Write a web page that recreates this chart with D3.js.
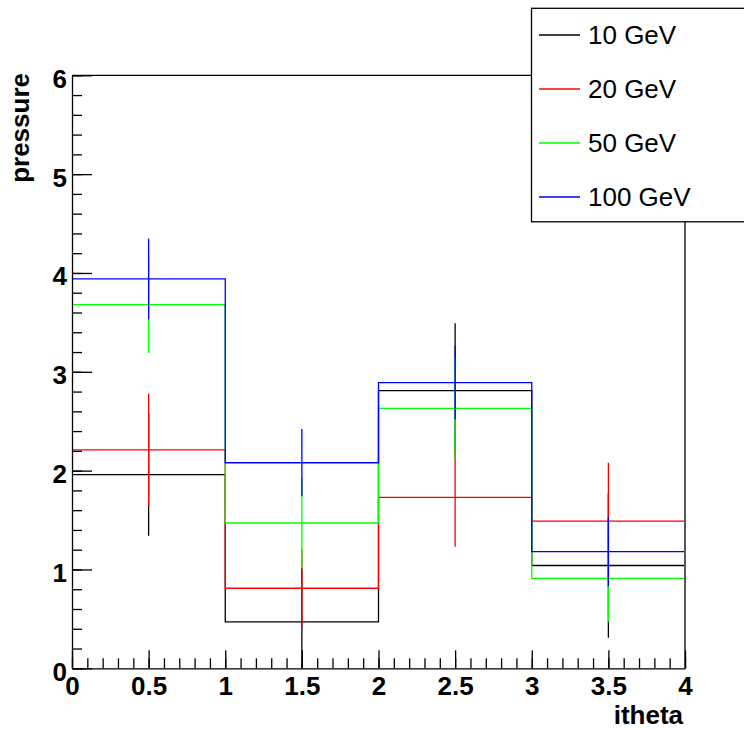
<!DOCTYPE html>
<html>
<head>
<meta charset="utf-8">
<script src="https://cdn.jsdelivr.net/npm/d3@7"></script>
<style>
  body { margin: 0; background: #fff; }
  svg { display: block; font-family: "Liberation Sans", Arial, Helvetica, sans-serif; }
</style>
</head>
<body>
<div id="chart"></div>
<script>
// bins and series
var binEdges = [0, 1, 2, 3, 4];
var seriesNames = ["10 GeV", "20 GeV", "50 GeV", "100 GeV"];
var seriesColors = ["#000000", "#ff0000", "#00ff00", "#0000ff"];
var values10 = [1.96, 0.47, 2.81, 1.04];
var errors10 = [0.62, 0.55, 0.68, 0.73];
var values20 = [2.21, 0.81, 1.73, 1.49];
var errors20 = [0.57, 0.40, 0.50, 0.59];
var values50 = [3.68, 1.47, 2.63, 0.91];
var errors50 = [0.49, 0.46, 0.51, 0.44];
var values100 = [3.94, 2.08, 2.89, 1.18];
var errors100 = [0.41, 0.34, 0.37, 0.35];
var xMajorTicks = [0, 0.5, 1, 1.5, 2, 2.5, 3, 3.5, 4];
var yMajorTicks = [0, 1, 2, 3, 4, 5, 6];

var series = [
  {name: seriesNames[0], color: seriesColors[0], values: values10, errors: errors10},
  {name: seriesNames[1], color: seriesColors[1], values: values20, errors: errors20},
  {name: seriesNames[2], color: seriesColors[2], values: values50, errors: errors50},
  {name: seriesNames[3], color: seriesColors[3], values: values100, errors: errors100}
];

var W = 744, H = 729;
var frame = {left: 72, right: 685, top: 75.3, bottom: 668.3};

var svg = d3.select("#chart").append("svg")
    .attr("width", W)
    .attr("height", H);

var x = d3.scaleLinear().domain([0, 4]).range([frame.left, frame.right]);
var y = d3.scaleLinear().domain([0, 6]).range([frame.bottom, frame.top]);

// clip a hair inside the frame so the outline edges at x=0 and x=4 hide under the axis lines
svg.append("clipPath").attr("id", "frameClip")
  .append("rect")
    .attr("x", frame.left + 1).attr("y", frame.top)
    .attr("width", frame.right - frame.left - 2)
    .attr("height", frame.bottom - frame.top);

var plot = svg.append("g").attr("clip-path", "url(#frameClip)");

// step outline from (0,0) up through every bin and back down at x=4
var step = d3.line()
    .x(function(d) { return x(d.x) })
    .y(function(d) { return y(d.v) })
    .curve(d3.curveStepAfter);

series.forEach(function(s) {
  var pts = [{x: binEdges[0], v: 0}];
  s.values.forEach(function(v, i) { pts.push({x: binEdges[i], v: v}) });
  pts.push({x: binEdges[binEdges.length - 1], v: 0});

  var g = plot.append("g");
  g.append("path")
    .attr("d", step(pts))
    .attr("fill", "none")
    .attr("stroke", s.color)
    .attr("stroke-width", 1.3);

  // vertical error bars at bin centres
  g.selectAll("line.err")
    .data(s.values)
    .enter()
    .append("line")
      .attr("class", "err")
      .attr("x1", function(d, i) { return x((binEdges[i] + binEdges[i + 1]) / 2) })
      .attr("x2", function(d, i) { return x((binEdges[i] + binEdges[i + 1]) / 2) })
      .attr("y1", function(d, i) { return y(d - s.errors[i]) })
      .attr("y2", function(d, i) { return y(d + s.errors[i]) })
      .attr("stroke", s.color)
      .attr("stroke-width", 1.3);
});

// frame top and right
svg.append("line")
  .attr("x1", frame.left).attr("x2", frame.right)
  .attr("y1", frame.top).attr("y2", frame.top)
  .attr("stroke", "#000").attr("stroke-width", 1.3);
svg.append("line")
  .attr("x1", frame.right).attr("x2", frame.right)
  .attr("y1", frame.top).attr("y2", frame.bottom)
  .attr("stroke", "#000").attr("stroke-width", 1.3);

// x axis: minor ticks then major ticks with labels, all pointing inward
svg.append("g")
  .attr("transform", "translate(0," + frame.bottom + ")")
  .call(d3.axisBottom(x).tickValues(d3.range(0, 41).map(function(i) { return i / 10 }))
    .tickSizeInner(-10).tickSizeOuter(0).tickFormat(""))
  .call(function(g) { g.select(".domain").remove() });

var xAxis = svg.append("g")
  .attr("transform", "translate(0," + frame.bottom + ")")
  .call(d3.axisBottom(x).tickValues(xMajorTicks)
    .tickSizeInner(-18).tickSizeOuter(0).tickPadding(8)
    .tickFormat(function(d) { return String(d) }));

// y axis
svg.append("g")
  .attr("transform", "translate(" + frame.left + ",0)")
  .call(d3.axisLeft(y).tickValues(d3.range(0, 31).map(function(i) { return i / 5 }))
    .tickSizeInner(-10).tickSizeOuter(0).tickFormat(""))
  .call(function(g) { g.select(".domain").remove() });

var yAxis = svg.append("g")
  .attr("transform", "translate(" + frame.left + ",0)")
  .call(d3.axisLeft(y).tickValues(yMajorTicks)
    .tickSizeInner(-20).tickSizeOuter(0).tickPadding(5)
    .tickFormat(d3.format("d")));
yAxis.selectAll("text").attr("dy", "0.46em");

svg.selectAll(".tick line").attr("stroke", "#000").attr("stroke-width", 1.3);
svg.selectAll(".domain").attr("stroke", "#000").attr("stroke-width", 1.3);
svg.selectAll(".tick text")
  .attr("font-family", "'Liberation Sans', Arial, Helvetica, sans-serif")
  .attr("font-size", 26)
  .attr("font-weight", "bold")
  .attr("fill", "#000");

// axis titles
svg.append("text")
  .attr("text-anchor", "end")
  .attr("x", 683)
  .attr("y", 724)
  .attr("font-size", 26)
  .attr("font-weight", "bold")
  .text("itheta");

svg.append("text")
  .attr("text-anchor", "end")
  .attr("transform", "translate(29,73) rotate(-90)")
  .attr("font-size", 26)
  .attr("font-weight", "bold")
  .text("pressure");

// legend
var legendY = d3.scalePoint().domain(seriesNames).range([35, 197]);
var legend = svg.append("g");
legend.append("rect")
  .attr("x", 531.5).attr("y", 8.3)
  .attr("width", 230).attr("height", 213.5)
  .attr("fill", "#fff")
  .attr("stroke", "#000")
  .attr("stroke-width", 1.3);

var entries = legend.selectAll("g.entry")
  .data(series)
  .enter()
  .append("g")
    .attr("class", "entry")
    .attr("transform", function(d) { return "translate(0," + legendY(d.name) + ")" });

entries.append("line")
  .attr("x1", 539).attr("x2", 580)
  .attr("stroke", function(d) { return d.color })
  .attr("stroke-width", 1.3);

entries.append("text")
  .attr("x", 588)
  .attr("dy", "0.36em")
  .attr("font-size", 26)
  .text(function(d) { return d.name });
</script>
</body>
</html>
